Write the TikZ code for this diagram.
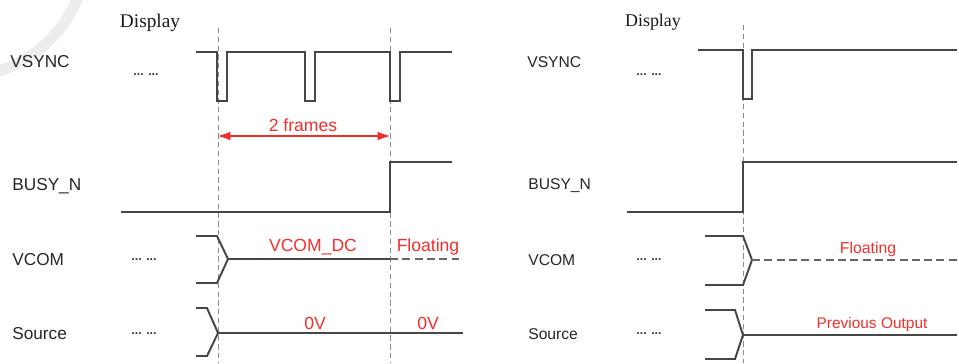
\documentclass[tikz,border=0pt]{standalone}
\usepackage{fontspec}
\setmainfont{Liberation Sans}
\newfontfamily\dispfont{Liberation Serif}
\usepackage{tikz}
\usetikzlibrary{positioning, arrows.meta, calc}
\definecolor{noteRed}{RGB}{245,45,40}
\definecolor{waveGray}{RGB}{70,70,70}

\begin{document}
\begin{tikzpicture}[
  x=0.02cm, y=-0.02cm,
  wave/.style={draw=waveGray, line width=1.1pt},
  floatline/.style={draw=black!60, line width=1.1pt, dash pattern=on 4.5pt off 2.5pt},
  guide/.style={draw=black!45, line width=0.45pt, dash pattern=on 3pt off 2pt},
  sig/.style={font=\fontsize{#1}{12}\selectfont, text=black!85, anchor=west, inner sep=0pt},
  sig/.default=9.8,
  note/.style={font=\fontsize{#1}{12}\selectfont, text=noteRed, inner sep=0pt},
  note/.default=10,
  dots/.style={font=\fontsize{7}{8}\selectfont\bfseries, text=black!80, inner sep=0pt},
  disp/.style={font=\dispfont\fontsize{#1}{13}\selectfont, text=black!90, inner sep=0pt},
  disp/.default=11,
  >={Latex[length=7pt, width=5pt]}
]
\useasboundingbox (0,0) rectangle (959,363);

% Faint watermark arc, top left
\begin{scope}
  \clip (0,0) rectangle (959,363);
  \draw[black!7, line width=0.22cm] (-40,-50) circle (127);
\end{scope}

% ---------------- Left panel ----------------
\node[disp] (dispL) at (150,23) {Display};
\node[sig] (vsL) at (10,62) {VSYNC};
\node[sig] (busyL) at (12,186) {BUSY\_N};
\node[sig] (vcomL) at (12,260) {VCOM};
\node[sig] (srcL) at (12,334) {Source};
\node[dots] (dvsL) at (146,75) {... ...};
\node[dots] (dvcL) at (144,260) {... ...};
\node[dots] (dsrL) at (144,334) {... ...};

% Dashed time marks
\coordinate (g1t) at (218,28);
\coordinate (g1b) at (218,363);
\coordinate (g2t) at (390,28);
\coordinate (g2b) at (390,363);
\draw[guide] (g1t) -- (g1b);
\draw[guide] (g2t) -- (g2b);

% VSYNC
\draw[wave] (196,52) -| (217,101) -| (227,52) -| (305,101) -| (315,52) -| (390,101) -| (400,52) -- (452,52);

% 2 frames
\coordinate (f1) at (218,136);
\coordinate (f2) at (390,136);
\draw[<->, noteRed, line width=0.6pt] (f1) -- (f2);
\node[note] (frames) at (303,125) {2 frames};

% BUSY_N
\draw[wave] (121,212) -| (390,162) -- (452,162);

% VCOM
\draw[wave] (196,236) -- (217,236) -- (228,259) -- (217,283) -- (196,283);
\draw[wave] (228,259) -- (390,259);
\draw[floatline] (390,259) -- (462,259);
\node[note] (vcomdc) at (313,247) {VCOM\_DC};
\node[note] (floatL) at (428,247) {Floating};

% Source
\draw[wave] (196,308) -- (207,308) -- (218,333) -- (207,356) -- (196,356);
\draw[wave] (218,333) -- (463,333);
\node[note] (zeroA) at (315,323) {0V};
\node[note] (zeroB) at (428,323) {0V};

% ---------------- Right panel ----------------
\node[disp=10.2] (dispR) at (653,22) {Display};
\node[sig=8.9] (vsR) at (527,62) {VSYNC};
\node[sig=8.9] (busyR) at (528,186) {BUSY\_N};
\node[sig=8.9] (vcomR) at (528,260) {VCOM};
\node[sig=8.9] (srcR) at (528,334) {Source};
\node[dots] (dvsR) at (649,75) {... ...};
\node[dots] (dvcR) at (649,260) {... ...};
\node[dots] (dsrR) at (649,334) {... ...};

\coordinate (g3t) at (743,25);
\coordinate (g3b) at (743,363);
\draw[guide] (g3t) -- (g3b);

% VSYNC
\draw[wave] (698,50) -| (743,99) -| (752,50) -- (957,50);

% BUSY_N
\draw[wave] (627,212) -| (743,162) -- (957,162);

% VCOM
\draw[wave] (705,236) -- (743,236) -- (752,260) -- (743,285) -- (705,285);
\draw[floatline] (752,260) -- (957,260);
\node[note=9] (floatR) at (868,249) {Floating};

% Source
\draw[wave] (705,310) -- (735,310) -- (743,335) -- (735,359) -- (705,359);
\draw[wave] (743,335) -- (957,335);
\node[note=8.8] (prevout) at (872,324) {Previous Output};

\end{tikzpicture}
\end{document}
